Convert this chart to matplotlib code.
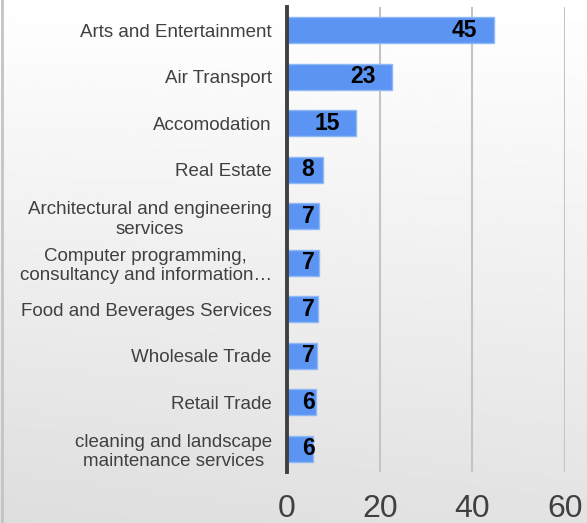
import matplotlib
matplotlib.use("Agg")
import matplotlib.pyplot as plt
import numpy as np
from matplotlib.lines import Line2D

plt.rcParams['font.family'] = ['Liberation Sans', 'DejaVu Sans']

categories = [
    "Arts and Entertainment",
    "Air Transport",
    "Accomodation",
    "Real Estate",
    "Architectural and engineering\nservices",
    "Computer programming,\nconsultancy and information\u2026",
    "Food and Beverages Services",
    "Wholesale Trade",
    "Retail Trade",
    "cleaning and landscape\nmaintenance services",
]
values = [44.7, 22.7, 14.9, 7.8, 6.9, 6.9, 6.6, 6.5, 6.2, 5.5]
xticks = [0, 20, 40, 60]

fig = plt.figure(figsize=(5.87, 5.23), dpi=100)

# background gradient (white at top -> light gray at bottom)
bg = fig.add_axes([0, 0, 1, 1], zorder=-10)
yy, xx = np.mgrid[0:1:200j, 0:1:200j]
shade = 1.0 - 0.11 * yy - 0.02 * (1 - xx) * yy
bg.imshow(shade, cmap='gray', vmin=0, vmax=1, aspect='auto',
          extent=[0, 1, 0, 1], origin='upper')
bg.axis('off')
fig.add_artist(Line2D([0.004, 0.004], [0, 1], transform=fig.transFigure,
                      color='#c4c4c4', lw=2))

ax = fig.add_axes([0.489, 0.0975, 0.4736, 0.889])
ax.set_facecolor('none')

pos = np.arange(len(categories))
bars = ax.barh(pos, values, height=0.56, color='#5b94f2',
               edgecolor='#8fb8f6', linewidth=1, zorder=3)

for i, v in enumerate(values):
    ax.annotate(str(int(np.floor(v + 0.5))), xy=(max(v, 9.5), i), xytext=(-12, 0),
                textcoords='offset points', ha='right', va='center',
                fontsize=16.5, fontweight='bold', color='black', zorder=4)

ax.set_xlim(0, 60)
ax.set_ylim(len(categories) - 0.5, -0.5)
ax.set_xticks(xticks)
ax.set_xticklabels([str(t) for t in xticks])
ax.set_yticks(pos)
ax.set_yticklabels(categories, multialignment='center')

ax.tick_params(axis='x', length=0, pad=16, labelsize=23, labelcolor='#404040')
ax.tick_params(axis='y', length=0, pad=11, labelsize=13.5, labelcolor='#404040')

ax.grid(axis='x', color='#c4c4c4', linewidth=1.5, zorder=0)
ax.set_axisbelow(True)
for s in ['top', 'right', 'bottom']:
    ax.spines[s].set_visible(False)
ax.spines['left'].set_color('#404040')
ax.spines['left'].set_linewidth(2.8)
ax.spines['left'].set_zorder(5)

fig.savefig('out.png', dpi=100)
